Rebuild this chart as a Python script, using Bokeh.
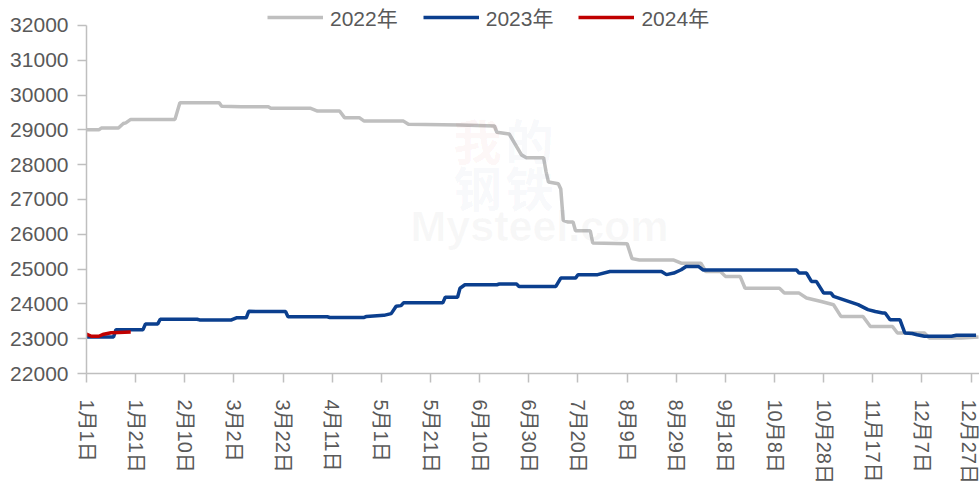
from bokeh.plotting import figure
from bokeh.models import Legend, LegendItem, FixedTicker, Label, Range1d
from bokeh.embed import file_html
from bokeh.resources import INLINE

# x axis: day of year (0 = 1月1日), ticks every 20 days
tick_days = list(range(0, 361, 20))
tick_labels = ["1月1日", "1月21日", "2月10日", "3月2日", "3月22日", "4月11日",
               "5月1日", "5月21日", "6月10日", "6月30日", "7月20日", "8月9日",
               "8月29日", "9月18日", "10月8日", "10月28日", "11月17日",
               "12月7日", "12月27日"]
y_ticks = list(range(22000, 32001, 1000))

# 2022年
d22 = [0, 5, 6, 13, 15, 16, 18, 36, 38, 54, 55, 63, 74, 75, 91, 94, 103, 105,
       111, 113, 129, 131, 152, 166, 167, 172, 177, 179, 186, 187, 188, 192,
       193, 194, 196, 198, 199, 205, 206, 220, 222, 225, 239, 242, 250, 252,
       258, 260, 266, 268, 282, 284, 290, 293, 299, 304, 307, 316, 319, 328,
       330, 341, 343, 356, 363]
v22 = [29000, 29000, 29050, 29050, 29180, 29200, 29300, 29300, 29780, 29780,
       29680, 29660, 29660, 29620, 29620, 29540, 29540, 29350, 29350, 29250,
       29250, 29160, 29140, 29110, 28930, 28880, 28280, 28200, 28200, 27800,
       27500, 27450, 27300, 26400, 26350, 26350, 26100, 26100, 25750, 25730,
       25300, 25260, 25260, 25170, 25170, 24930, 24930, 24790, 24790, 24450,
       24450, 24310, 24310, 24170, 24070, 23975, 23640, 23640, 23350, 23350,
       23165, 23165, 23020, 23020, 23050]

# 2023年
d23 = [0, 11, 12, 23, 24, 29, 30, 45, 46, 59, 61, 65, 66, 81, 82, 98, 99, 113,
       114, 121, 124, 126, 128, 129, 145, 146, 151, 152, 154, 167, 168, 175,
       176, 191, 193, 199, 200, 208, 213, 234, 236, 239, 242, 244, 249, 251,
       289, 290, 293, 295, 297, 300, 303, 304, 314, 318, 321, 324, 325, 327,
       331, 333, 336, 338, 341, 352, 354, 362]
v23 = [23050, 23050, 23260, 23260, 23425, 23425, 23560, 23560, 23540, 23540,
       23600, 23600, 23785, 23780, 23630, 23630, 23610, 23610, 23640, 23670,
       23720, 23930, 23950, 24030, 24030, 24190, 24190, 24450, 24550, 24550,
       24570, 24570, 24500, 24500, 24740, 24740, 24835, 24840, 24930, 24930,
       24840, 24885, 24980, 25075, 25075, 24970, 24970, 24885, 24885, 24645,
       24645, 24310, 24310, 24215, 23980, 23835, 23780, 23740, 23740, 23545,
       23545, 23165, 23150, 23115, 23070, 23070, 23100, 23100]

# 2024年
d24 = [0, 2, 5, 7, 10, 13, 18]
v24 = [23130, 23070, 23070, 23130, 23170, 23180, 23190]

FONT = "Liberation Sans, Noto Sans CJK SC"
TXT = "#595959"
AX = "#BFBFBF"

# frame extends a little above 32000 to host the legend; the axis line stops at 32000
p = figure(width=979, height=486, output_backend="svg", toolbar_location=None,
           x_range=Range1d(0, 363.4), y_range=Range1d(22000, 32600),
           min_border_left=86, min_border_right=0, min_border_top=4,
           min_border_bottom=112)
p.outline_line_color = None
p.grid.visible = False
p.background_fill_color = "white"

# faint watermark (screen units relative to the plot frame)
wm = [("我", 367, 204, "#C00000"), ("的", 419, 204, "#1F4E9A"),
      ("钢", 367, 157, "#1F4E9A"), ("铁", 419, 157, "#1F4E9A")]
for t, sx, sy, c in wm:
    p.add_layout(Label(x=sx, y=sy, x_units="screen", y_units="screen",
                       text=t, text_font=FONT, text_font_size="48px",
                       text_font_style="bold", text_color=c, text_alpha=0.05))
p.add_layout(Label(x=324, y=124, x_units="screen", y_units="screen",
                   text="Mysteel.com", text_font=FONT, text_font_size="43px",
                   text_font_style="bold", text_color="#888888", text_alpha=0.06))

r22 = p.line(d22, v22, line_color="#BFBFBF", line_width=3.5)
r23 = p.line(d23, v23, line_color="#0B3F8E", line_width=3.5)
r24 = p.line(d24, v24, line_color="#C00000", line_width=3.5)

for ax in (p.xaxis[0], p.yaxis[0]):
    ax.axis_line_color = AX
    ax.axis_line_width = 1.5
    ax.major_tick_line_color = AX
    ax.major_tick_line_width = 1.5
    ax.major_tick_in = 0
    ax.major_tick_out = 9
    ax.minor_tick_line_color = None
    ax.major_label_text_font = FONT
    ax.major_label_text_color = TXT

p.yaxis[0].ticker = FixedTicker(ticks=y_ticks)
p.yaxis[0].bounds = (22000, 32000)
p.yaxis[0].major_label_standoff = 9
p.yaxis[0].major_label_text_font_size = "21px"
p.xaxis[0].ticker = FixedTicker(ticks=tick_days)
p.xaxis[0].major_label_overrides = {d: l for d, l in zip(tick_days, tick_labels)}
p.xaxis[0].major_label_orientation = "vertical"
p.xaxis[0].major_label_standoff = 17
p.xaxis[0].major_label_text_font_size = "20px"

legend = Legend(items=[LegendItem(label="2022年", renderers=[r22]),
                       LegendItem(label="2023年", renderers=[r23]),
                       LegendItem(label="2024年", renderers=[r24])],
                orientation="horizontal", location=(181, 341),
                glyph_width=56, glyph_height=20,
                label_standoff=7, spacing=25,
                padding=0, margin=0, border_line_color=None,
                background_fill_alpha=0, label_text_font=FONT,
                label_text_font_size="21px", label_text_color=TXT)
p.add_layout(legend, "center")

open("out.html", "w").write(file_html(p, INLINE))
